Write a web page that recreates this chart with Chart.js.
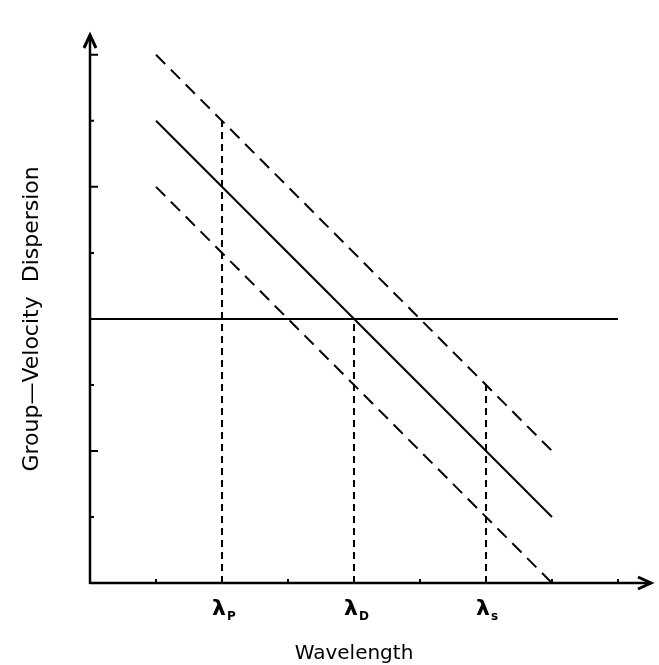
<!DOCTYPE html>
<html><head><meta charset="utf-8">
<style>html,body{margin:0;padding:0;background:#fff}#wrap{width:659px;height:665px}</style>
<script src="https://cdn.jsdelivr.net/npm/chart.js@4.4.0/dist/chart.umd.min.js"></script>
</head><body><div id="wrap"><canvas id="c" width="659" height="665"></canvas></div>
<script>
// Data (axis units: one tick = 1)
const solidLine = [{x:1,y:7},{x:7,y:1}];
const upperDashed = [{x:1,y:8},{x:7,y:2}];
const lowerDashed = [{x:1,y:6},{x:7,y:0}];
const zeroLine = [{x:0,y:4},{x:8,y:4}];
const vertP = [{x:2,y:0},{x:2,y:7}];
const vertD = [{x:4,y:0},{x:4,y:4}];
const vertS = [{x:6,y:0},{x:6,y:3}];
const xTicks = [1,2,3,4,5,6,7,8];
const yMajorTicks = [2,4,6,8];
const yMinorTicks = [1,3,5,7];
const lambdaLabels = [{x:2,sub:'P'},{x:4,sub:'D'},{x:6,sub:'s'}];
const xTitle = 'Wavelength';
const yTitle = 'Group\u2014Velocity  Dispersion';

function ds(data, dash, w){
  return {data, borderColor:'#000', borderWidth:w, borderDash:dash, pointRadius:0, showLine:true, fill:false, tension:0, borderCapStyle:'butt'};
}

const axesPlugin = {
  id:'axesPlugin',
  afterDatasetsDraw(chart){
    const {ctx, scales:{x, y}} = chart;
    const x0 = x.getPixelForValue(0), y0 = y.getPixelForValue(0);
    const xEnd = x.getPixelForValue(8.5), yEnd = y.getPixelForValue(8.3);
    ctx.save();
    ctx.strokeStyle = '#000'; ctx.fillStyle='#000';
    ctx.lineWidth = 2.5; ctx.setLineDash([]);
    ctx.beginPath();
    ctx.moveTo(x0, y0); ctx.lineTo(xEnd, y0);
    ctx.moveTo(x0, y0+1); ctx.lineTo(x0, yEnd);
    ctx.stroke();
    // arrows
    ctx.lineWidth = 3;
    ctx.beginPath();
    ctx.moveTo(xEnd-13, y0-6); ctx.lineTo(xEnd, y0); ctx.lineTo(xEnd-13, y0+6);
    ctx.moveTo(x0-6, yEnd+13); ctx.lineTo(x0, yEnd); ctx.lineTo(x0+6, yEnd+13);
    ctx.stroke();
    // ticks
    ctx.lineWidth = 2;
    ctx.beginPath();
    xTicks.forEach(v=>{const px=x.getPixelForValue(v); ctx.moveTo(px,y0); ctx.lineTo(px,y0-4);});
    yMajorTicks.forEach(v=>{const py=y.getPixelForValue(v); ctx.moveTo(x0,py); ctx.lineTo(x0+8,py);});
    yMinorTicks.forEach(v=>{const py=y.getPixelForValue(v); ctx.moveTo(x0,py); ctx.lineTo(x0+4,py);});
    ctx.stroke();
    // lambda labels
    lambdaLabels.forEach(l=>{
      const px = x.getPixelForValue(l.x);
      ctx.font = 'bold 22px "DejaVu Sans"';
      ctx.textAlign='center'; ctx.textBaseline='alphabetic';
      ctx.fillText('\u03BB', px-3, y0+32);
      ctx.font = 'bold 12px "DejaVu Sans"';
      ctx.textAlign='left';
      ctx.fillText(l.sub, px+5, y0+37);
    });
    // titles
    ctx.font = '20px "DejaVu Sans"';
    ctx.textAlign='center'; ctx.textBaseline='alphabetic';
    ctx.fillText(xTitle, x.getPixelForValue(4), 659);
    ctx.font = '22px "DejaVu Sans"';
    ctx.translate(38, y.getPixelForValue(4.0));
    ctx.rotate(-Math.PI/2);
    ctx.fillText(yTitle, 0, 0);
    ctx.restore();
  }
};

new Chart(document.getElementById('c'), {
  type:'scatter',
  data:{datasets:[
    ds(solidLine, [], 2),
    ds(upperDashed, [13,8], 2),
    ds(lowerDashed, [13,8], 2),
    ds(zeroLine, [], 2),
    ds(vertP, [7,5], 2),
    ds(vertD, [7,5], 2),
    ds(vertS, [7,5], 2)
  ]},
  options:{
    responsive:false, animation:false, devicePixelRatio:1,
    layout:{padding:{left:90, right:8, top:35, bottom:82}},
    plugins:{legend:{display:false}, tooltip:{enabled:false}},
    scales:{
      x:{type:'linear', min:0, max:8.5, display:false},
      y:{type:'linear', min:0, max:8.3, display:false}
    }
  },
  plugins:[axesPlugin]
});
</script></body></html>
